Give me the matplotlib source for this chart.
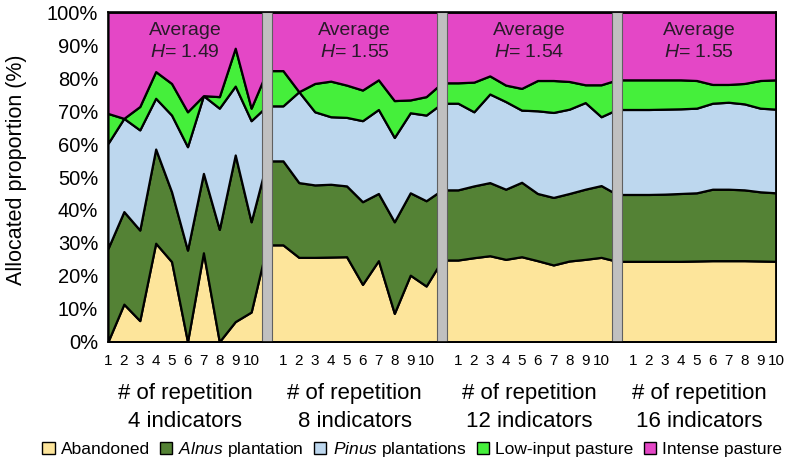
import numpy as np
import matplotlib.pyplot as plt
from matplotlib.patches import Patch

plt.rcParams['font.family'] = ['Liberation Sans', 'DejaVu Sans']
plt.rcParams['mathtext.fontset'] = 'custom'
plt.rcParams['mathtext.rm'] = 'Liberation Sans'
plt.rcParams['mathtext.it'] = 'Liberation Sans:italic'

# Allocated proportion (%) per land use, 10 repetitions per indicator set
abandoned = [
    [0, 11.4, 6.4, 29.9, 24.3, 0, 27.0, 0, 6.1, 9.0],
    [29.4, 25.6, 25.6, 25.7, 25.8, 17.4, 24.6, 8.6, 20.2, 16.9],
    [24.8, 25.5, 26.1, 25.0, 25.8, 24.6, 23.3, 24.5, 25.0, 25.6],
    [24.4, 24.4, 24.4, 24.4, 24.5, 24.6, 24.6, 24.6, 24.5, 24.4],
]
alnus = [
    [28.3, 28.1, 27.5, 28.6, 21.2, 27.8, 24.1, 34.1, 50.6, 27.4],
    [25.5, 22.7, 22.0, 22.1, 21.5, 25.1, 20.4, 27.8, 25.0, 25.9],
    [21.3, 21.8, 22.2, 21.3, 22.6, 20.4, 20.5, 20.5, 21.3, 21.8],
    [20.3, 20.3, 20.4, 20.6, 20.7, 21.7, 21.7, 21.5, 21.0, 20.8],
]
pinus = [
    [31.9, 28.3, 30.4, 15.4, 23.3, 31.4, 23.6, 36.8, 20.9, 30.7],
    [16.7, 27.6, 22.2, 20.5, 20.8, 24.6, 25.5, 25.6, 24.3, 26.0],
    [26.3, 22.5, 26.9, 26.6, 21.9, 25.1, 25.8, 25.6, 26.3, 20.9],
    [25.8, 25.8, 25.8, 25.7, 25.7, 26.1, 26.4, 26.1, 25.4, 25.4],
]
low_input = [
    [9.1, 0, 7.1, 8.1, 9.6, 10.6, 0, 3.5, 11.5, 3.8],
    [10.7, 0, 8.6, 10.8, 9.8, 9.3, 9.0, 11.2, 3.9, 5.6],
    [6.2, 9.0, 5.5, 5.0, 6.6, 9.2, 9.7, 8.4, 5.4, 9.7],
    [9.0, 9.0, 8.9, 8.8, 8.4, 5.7, 5.4, 6.2, 8.4, 8.9],
]
intense = [
    [30.7, 32.2, 28.6, 18.0, 21.6, 30.2, 25.3, 25.6, 10.9, 29.1],
    [17.7, 24.1, 21.6, 20.9, 22.1, 23.6, 20.5, 26.8, 26.6, 25.6],
    [21.4, 21.2, 19.3, 22.1, 23.1, 20.7, 20.7, 21.0, 22.0, 22.0],
    [20.5, 20.5, 20.5, 20.5, 20.7, 21.9, 21.9, 21.6, 20.7, 20.5],
]
indicators = [4, 8, 12, 16]
avg_h = [1.49, 1.55, 1.54, 1.55]
rep_labels = [str(i) for i in range(1, 11)]

labels = ['Abandoned', r'$\it{Alnus}$ plantation', r'$\it{Pinus}$ plantations',
          'Low-input pasture', 'Intense pasture']
colors = ['#fde59b', '#548235', '#bdd7ee', '#45ef3b', '#e447c6']

# one continuous category axis; a separator slot sits before each new set
# (it repeats the first value of the following set, like the original sheet)
def join(series):
    out = []
    for i, s in enumerate(series):
        if i > 0:
            out.append(s[0])
        out.extend(s)
    return out

layers = [join(s) for s in [abandoned, alnus, pinus, low_input, intense]]
x = np.arange(len(layers[0]))
gaps = [11 * i - 1 for i in range(1, 4)]
starts = [11 * i for i in range(4)]

fig = plt.figure(figsize=(7.88, 4.61), dpi=100)
ax = fig.add_axes([0.137, 0.2588, 0.848, 0.7145])

ax.stackplot(x, layers, colors=colors, edgecolor='black', linewidth=1.6)
ax.bar(gaps, 100, width=0.65, bottom=0, color='#c0c0c0',
       edgecolor='#606060', linewidth=0.8, zorder=3)

ax.set_xlim(0, x[-1])
ax.set_ylim(0, 100)
ax.set_yticks(np.arange(0, 101, 10))
ax.set_yticklabels([f'{v}%' for v in range(0, 101, 10)], fontsize=14.5)
ticks = [s + i for s in starts for i in range(10)]
ax.set_xticks(ticks)
ax.set_xticklabels(rep_labels * 4, fontsize=11)
ax.tick_params(length=0)
ax.tick_params(axis='y', pad=7)
ax.tick_params(axis='x', pad=9)
for sp in ax.spines.values():
    sp.set_linewidth(1.2)
    sp.set_zorder(4)

ax.set_ylabel('Allocated proportion (%)', fontsize=15.5)
ax.yaxis.set_label_coords(-0.121, 0.521)

for i, s in enumerate(starts):
    left = max(s - 0.7, 0)
    right = min(s + 9.7, x[-1])
    cx = (left + right) / 2
    ax.text(cx, 93.1, 'Average', ha='center', va='baseline', fontsize=14,
            color='#2a1a2a', zorder=5)
    ax.text(cx, 86.3, f'$H$= {avg_h[i]:.2f}', ha='center', va='baseline',
            fontsize=14, color='#2a1a2a', zorder=5)
    ax.text(cx, -0.1743, '# of repetition',
            transform=ax.get_xaxis_transform(), ha='center', va='baseline',
            fontsize=16)
    ax.text(cx, -0.2593, f'{indicators[i]} indicators',
            transform=ax.get_xaxis_transform(), ha='center', va='baseline',
            fontsize=16)

handles = [Patch(facecolor=c, edgecolor='black', linewidth=1.0) for c in colors]
fig.legend(handles, labels, loc='center', bbox_to_anchor=(0.523, 0.024), ncol=5,
           frameon=False, fontsize=12.5, handlelength=0.7, handleheight=0.7,
           handletextpad=0.35, columnspacing=0.6, borderpad=0)

fig.savefig('out.png', dpi=100)
